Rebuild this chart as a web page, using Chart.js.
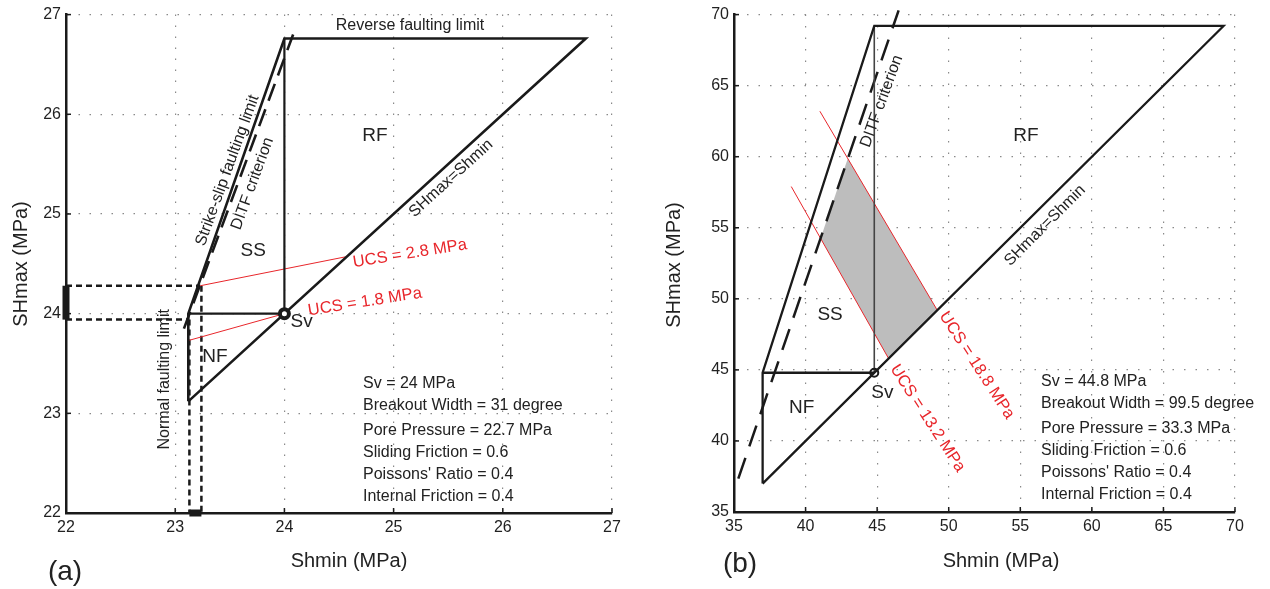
<!DOCTYPE html>
<html>
<head>
<meta charset="utf-8">
<script src="https://cdn.jsdelivr.net/npm/chart.js@4.4.1/dist/chart.umd.min.js"></script>
<style>
  html, body { margin: 0; padding: 0; background: #fff; }
  #wrap { position: relative; width: 1270px; height: 589px; }
  canvas { position: absolute; top: 0; }
  #ca { left: 0; }
  #cb { left: 635px; }
</style>
</head>
<body>
<div id="wrap">
  <canvas id="ca" width="635" height="589"></canvas>
  <canvas id="cb" width="635" height="589"></canvas>
</div>
<script>
/* ── Panel (a) data: Shmin, SHmax pairs (MPa) ── */
const aFrame      = [[23.12, 23.12], [23.12, 24.0], [24.0, 26.76], [26.76, 26.76], [23.12, 23.12]];
const aSsInner    = [[23.12, 24.0], [24.0, 24.0], [24.0, 26.76]];
const aDitf       = [[23.08, 23.85], [24.08, 26.8]];
const aUcsHigh    = [[23.23, 24.28], [24.56, 24.57]];
const aUcsLow     = [[23.12, 23.73], [24.0, 24.0]];
const aBoundUpper = [[22, 24.28], [23.23, 24.28]];
const aBoundLower = [[22, 23.94], [23.12, 23.94]];
const aDropUpper  = [[23.24, 24.28], [23.24, 22]];
const aDropLower  = [[23.13, 23.94], [23.13, 22]];
const aBarY       = [[22, 23.94], [22, 24.28]];
const aBarX       = [[23.13, 22], [23.24, 22]];
const aSv         = [[24, 24]];
const aTicks      = [22, 23, 24, 25, 26, 27];
const aParams     = ['Sv = 24 MPa', 'Breakout Width = 31 degree', 'Pore Pressure = 22.7 MPa',
                     'Sliding Friction = 0.6', "Poissons' Ratio = 0.4", 'Internal Friction = 0.4'];

/* ── Panel (b) data ── */
const bFrame   = [[37, 37], [37, 44.8], [44.8, 69.2], [69.2, 69.2], [37, 37]];
const bNfTop   = [[37, 44.8], [44.8, 44.8]];
const bSsSplit = [[44.8, 44.8], [44.8, 69.2]];
const bDitf    = [[35.3, 37.35], [46.5, 70.3]];
const bUcsHigh = [[41.0, 63.2], [49.2, 49.2]];
const bUcsLow  = [[39.0, 57.9], [45.8, 45.8]];
const bWindow  = [[41.05, 54.27], [42.95, 59.87], [49.2, 49.2], [45.8, 45.8], [41.05, 54.27]];
const bSv      = [[44.8, 44.8]];
const bTicks   = [35, 40, 45, 50, 55, 60, 65, 70];
const bParams  = ['Sv = 44.8 MPa', 'Breakout Width = 99.5 degree', 'Pore Pressure = 33.3 MPa',
                  'Sliding Friction = 0.6', "Poissons' Ratio = 0.4", 'Internal Friction = 0.4'];

const FONT = "'Liberation Sans', Arial, Helvetica, sans-serif";
const INK  = '#1a1a1a';
const TXT  = '#222';
const RED  = '#e8262b';

const pts = (a) => a.map(([x, y]) => ({ x, y }));
function line(a, color, width, dash, extra) {
    return Object.assign({
        data: pts(a), showLine: true, borderColor: color, borderWidth: width,
        borderDash: dash || [], pointRadius: 0, fill: false, tension: 0, order: 1,
    }, extra || {});
}

/* text, titles and inward ticks */
function notesPlugin(p) {
    return {
        id: 'notes',
        afterDatasetsDraw(chart) {
            const { ctx, scales: { x, y } } = chart;
            p.notes.forEach(n => {
                ctx.save();
                ctx.translate(x.getPixelForValue(n.x), y.getPixelForValue(n.y));
                ctx.rotate((n.rot || 0) * Math.PI / 180);
                ctx.font = `${n.size || 16}px ${FONT}`;
                ctx.fillStyle = n.color || TXT;
                ctx.textAlign = 'center';
                ctx.textBaseline = 'middle';
                ctx.fillText(n.text, 0, 0);
                ctx.restore();
            });
            // parameter block
            ctx.save();
            ctx.font = `16px ${FONT}`;
            ctx.fillStyle = TXT;
            ctx.textAlign = 'left';
            ctx.textBaseline = 'middle';
            const px0 = x.getPixelForValue(p.paramX), py0 = y.getPixelForValue(p.paramY);
            const steps = [0, 22, 47, 69, 91, 113];
            p.params.forEach((s, i) => ctx.fillText(s, px0, py0 + steps[i]));
            ctx.restore();
        },
        afterDraw(chart) {
            const { ctx, chartArea: ca, scales: { x, y } } = chart;
            ctx.save();
            ctx.strokeStyle = INK; ctx.lineWidth = 1.5;
            p.ticks.forEach(v => {
                const px = x.getPixelForValue(p.xTicks[p.ticks.indexOf(v)]);
                ctx.beginPath(); ctx.moveTo(px, ca.bottom); ctx.lineTo(px, ca.bottom - 5); ctx.stroke();
                const py = y.getPixelForValue(v);
                ctx.beginPath(); ctx.moveTo(ca.left, py); ctx.lineTo(ca.left + 5, py); ctx.stroke();
            });
            ctx.fillStyle = TXT;
            ctx.textAlign = 'center'; ctx.textBaseline = 'middle';
            ctx.font = `20px ${FONT}`;
            ctx.fillText('Shmin (MPa)', p.xTitle[0], p.xTitle[1]);
            ctx.save();
            ctx.translate(p.yTitle[0], p.yTitle[1]); ctx.rotate(-Math.PI / 2);
            ctx.fillText('SHmax (MPa)', 0, 0);
            ctx.restore();
            ctx.font = `28px ${FONT}`;
            ctx.fillText(p.tag, p.tagPos[0], p.tagPos[1]);
            ctx.restore();
        },
    };
}

function makeChart(id, p, datasets) {
    const axis = (extra) => Object.assign({
        type: 'linear', min: p.ticks[0], max: p.ticks[p.ticks.length - 1],
        ticks: { stepSize: p.step, color: TXT, font: { family: FONT, size: 16 }, maxRotation: 0 },
        grid: { color: '#8a8a8a', lineWidth: 1.2, drawTicks: false },
        border: { color: INK, width: 2.5, dash: p.gridDash },
    }, extra);
    return new Chart(document.getElementById(id), {
        type: 'scatter',
        data: { datasets },
        options: {
            responsive: false, animation: false, events: [],
            layout: { padding: { top: p.pad.top, right: p.pad.right, left: 0, bottom: 0 } },
            plugins: { legend: { display: false }, tooltip: { enabled: false } },
            scales: {
                x: axis({ afterFit: (s) => { s.height = p.xh; } }),
                y: axis({ afterFit: (s) => { s.width = p.yw; } }),
            },
        },
        plugins: [notesPlugin(p)],
    });
}
// x-axis options need their own tick padding
Chart.defaults.scales.linear.ticks.padding = 5;

makeChart('ca', {
    ticks: aTicks, xTicks: aTicks, step: 1, gridDash: [1.5, 9.5],
    pad: { top: 14, right: 23 }, xh: 76, yw: 66,
    paramX: 24.72, paramY: 23.30, params: aParams,
    xTitle: [349, 561], yTitle: [21, 264], tag: '(a)', tagPos: [65, 572],
    notes: [
        { text: 'Reverse faulting limit', x: 25.15, y: 26.89 },
        { text: 'RF', x: 24.83, y: 25.78, size: 19 },
        { text: 'SHmax=Shmin', x: 25.526, y: 25.357, rot: -42.4 },
        { text: 'Strike-slip faulting limit', x: 23.479, y: 25.437, rot: -70 },
        { text: 'DITF criterion', x: 23.708, y: 25.304, rot: -70 },
        { text: 'SS', x: 23.715, y: 24.635, size: 19 },
        { text: 'UCS = 2.8 MPa', x: 25.15, y: 24.602, rot: -9, size: 16.5, color: RED },
        { text: 'UCS = 1.8 MPa', x: 24.738, y: 24.117, rot: -9, size: 16.5, color: RED },
        { text: 'Sv', x: 24.158, y: 23.917, size: 19 },
        { text: 'NF', x: 23.364, y: 23.566, size: 19 },
        { text: 'Normal faulting limit', x: 22.907, y: 23.341, rot: -90 },
    ],
}, [
    line(aSv, INK, 0, null, { pointRadius: 4.5, pointBorderWidth: 4, pointBorderColor: INK,
                              pointBackgroundColor: '#fff', showLine: false }),
    line(aFrame, INK, 2.6),
    line(aSsInner, INK, 2.2),
    line(aDitf, INK, 2.6, [18, 9], { clip: false }),
    line(aUcsHigh, RED, 1),
    line(aUcsLow, RED, 1),
    line(aBoundUpper, INK, 2.5, [6, 4]),
    line(aBoundLower, INK, 2.5, [6, 4]),
    line(aDropUpper, INK, 2.5, [6, 4]),
    line(aDropLower, INK, 2.5, [6, 4]),
    line(aBarY, INK, 7, null, { clip: false, borderCapStyle: 'butt' }),
    line(aBarX, INK, 7, null, { clip: false, borderCapStyle: 'butt' }),
]);

makeChart('cb', {
    ticks: bTicks, xTicks: bTicks, step: 5, gridDash: [1.5, 10],
    pad: { top: 11, right: 35 }, xh: 77, yw: 99,
    paramX: 56.45, paramY: 44.21, params: bParams,
    xTitle: [366, 561], yTitle: [39, 265], tag: '(b)', tagPos: [105, 564],
    notes: [
        { text: 'DITF criterion', x: 45.32, y: 63.9, rot: -70 },
        { text: 'RF', x: 55.4, y: 61.45, size: 19 },
        { text: 'SHmax=Shmin', x: 56.73, y: 55.16, rot: -45 },
        { text: 'SS', x: 41.71, y: 48.87, size: 19 },
        { text: 'NF', x: 39.73, y: 42.35, size: 19 },
        { text: 'Sv', x: 45.36, y: 43.40, size: 19 },
        { text: 'UCS = 13.2 MPa', x: 48.52, y: 41.59, rot: 57, size: 16.5, color: RED },
        { text: 'UCS = 18.8 MPa', x: 51.96, y: 45.32, rot: 57, size: 16.5, color: RED },
    ],
}, [
    line(bSv, INK, 0, null, { pointRadius: 4, pointBorderWidth: 2, pointBorderColor: INK,
                              pointBackgroundColor: 'rgba(0,0,0,0)', showLine: false }),
    line(bFrame, INK, 2.3),
    line(bNfTop, INK, 2.3),
    line(bSsSplit, '#444', 1.6),
    line(bDitf, INK, 2.5, [22, 12], { clip: false }),
    line(bUcsHigh, RED, 1),
    line(bUcsLow, RED, 1),
    line(bWindow, 'rgba(0,0,0,0)', 0, null, { fill: 'shape', backgroundColor: '#bdbdbd', order: 5 }),
]);
</script>
</body>
</html>
